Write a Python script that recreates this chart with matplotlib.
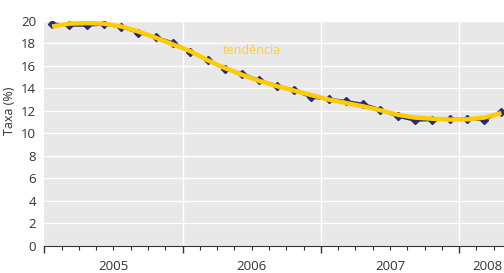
import matplotlib
matplotlib.use("Agg")
import matplotlib.pyplot as plt
import numpy as np
from matplotlib.ticker import MultipleLocator

plt.rcParams['font.family'] = ['Open Sans', 'DejaVu Sans']

# taxa observada (8 pontos por ano, de 2005 a inicio de 2008)
taxa = [19.75, 19.6, 19.6, 19.7, 19.45, 18.95, 18.55, 18.05,
        17.25, 16.5, 15.75, 15.3, 14.7, 14.25, 13.85, 13.2,
        13.05, 12.85, 12.6, 12.1, 11.5, 11.15, 11.2, 11.25,
        11.3, 11.2, 11.9]
# linha de tendencia
tendencia = [19.5, 19.75, 19.8, 19.75, 19.5, 19.05, 18.5, 17.9,
             17.3, 16.5, 15.8, 15.2, 14.65, 14.2, 13.8, 13.4,
             13.0, 12.7, 12.4, 12.05, 11.65, 11.4, 11.3, 11.22,
             11.24, 11.4, 11.8]
anos = ["2005", "2006", "2007", "2008"]
pontos_por_ano = 8

x = np.arange(len(taxa)) + 0.45

fig = plt.figure(figsize=(5.04, 2.73), dpi=100)
ax = fig.add_axes([0.0879, 0.0996, 0.9121, 0.824])
ax.set_facecolor("#e8e8e8")

ax.plot(x, taxa, color="#282b78", lw=2, marker="D", ms=4.5, zorder=3)
ax.plot(x, tendencia, color="#ffcc00", lw=3.2, zorder=4, solid_capstyle="butt")
ax.text(12.0, 17.35, "tendência", color="#f7cf3a", fontsize=9, ha="center", va="center")

ax.set_xlim(0, 26.6)
ax.set_ylim(0, 20)
ax.yaxis.set_major_locator(MultipleLocator(2))
ax.tick_params(axis="y", length=0, pad=6, labelsize=9.5, labelcolor="#333333")

ax.xaxis.set_major_locator(MultipleLocator(pontos_por_ano))
ax.xaxis.set_minor_locator(MultipleLocator(1))
ax.tick_params(axis="x", which="major", length=5, width=1, color="#333333", labelbottom=False)
ax.tick_params(axis="x", which="minor", length=3, width=0.8, color="#333333")

for i, ano in enumerate(anos):
    pos = i * pontos_por_ano + pontos_por_ano / 2
    if pos > 26.6:
        pos = 25.65
    ax.text(pos, -1.85, ano, ha="center", va="center", fontsize=9.5, color="#333333")

ax.grid(axis="y", color="white", lw=1)
for xv in range(pontos_por_ano, 27, pontos_por_ano):
    ax.axvline(xv, color="white", lw=1, zorder=1)
ax.set_axisbelow(True)

for s in ["top", "right", "left"]:
    ax.spines[s].set_visible(False)
ax.spines["bottom"].set_color("#333333")
ax.spines["bottom"].set_zorder(5)

ax.set_ylabel("Taxa (%)", fontsize=9, color="#333333")
ax.yaxis.set_label_coords(-0.062, 0.6)

fig.savefig("out.png", dpi=100)
